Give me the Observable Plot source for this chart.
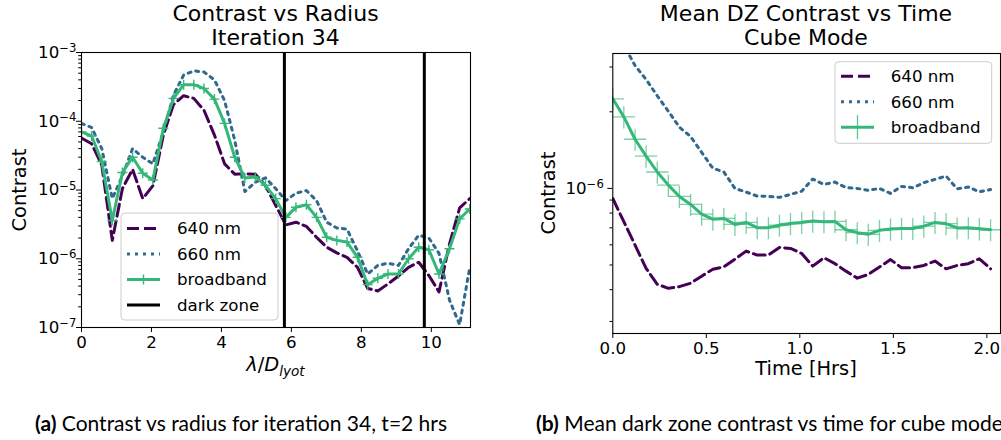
<!DOCTYPE html>
<html><head><meta charset="utf-8">
<script src="https://cdn.jsdelivr.net/npm/d3@7"></script>
<script src="https://cdn.jsdelivr.net/npm/@observablehq/plot@0.6"></script>
<style>
body{margin:0;background:#fff;width:1001px;height:440px;position:relative;overflow:hidden;font-family:"DejaVu Sans";color:#000;}
.title{position:absolute;top:2px;font-size:22px;line-height:24px;text-align:center;white-space:nowrap;transform:translateX(-50%);}
.ylab{position:absolute;font-size:19.4px;white-space:nowrap;transform:translate(-50%,-50%) rotate(-90deg);}
.xlab{position:absolute;font-size:19.4px;white-space:nowrap;transform:translate(-50%,-50%);}
.cap{position:absolute;top:411px;font-family:Lato;font-size:21px;line-height:24px;white-space:nowrap;}
#left{position:absolute;left:0;top:0;}
#right{position:absolute;left:500px;top:0;}
</style></head>
<body>
<div id="left"></div><div id="right"></div>
<div class="title" style="left:275.5px">Contrast vs Radius<br>Iteration 34</div>
<div class="title" style="left:806px">Mean DZ Contrast vs Time<br>Cube Mode</div>
<div class="ylab" style="left:19px;top:189.5px">Contrast</div>
<div class="ylab" style="left:548px;top:193px">Contrast</div>
<div class="xlab" style="left:275.5px;top:366px"><i>λ</i>/<i>D</i><sub style="font-size:70%"><i>lyot</i></sub></div>
<div class="xlab" style="left:806px;top:368px">Time [Hrs]</div>
<div class="cap" style="left:35px"><b>(a)</b> Contrast vs radius for iteration 34, t=2 hrs</div>
<div class="cap" style="left:536px"><b>(b)</b> Mean dark zone contrast vs time for cube mode</div>
<script>
// ---- Left chart: contrast vs radius ----
const radius = [0,0.29,0.58,0.88,1.17,1.46,1.75,2.04,2.34,2.63,
  2.92,3.21,3.5,3.8,4.09,4.38,4.67,4.97,5.26,5.55,
  5.84,6.13,6.43,6.72,7.01,7.3,7.59,7.89,8.18,8.47,
  8.76,9.06,9.35,9.64,9.93,10.22,10.52,10.81,11.1];
const radial640 = [5.7e-5,4.7e-5,2.3e-5,1.85e-6,1.05e-5,2.0e-5,7.5e-6,1.15e-5,6.3e-5,1.75e-4,
  2.35e-4,2.15e-4,1.45e-4,6.3e-5,2.4e-5,1.7e-5,1.72e-5,1.7e-5,1.15e-5,6.0e-6,
  3.1e-6,3.4e-6,2.95e-6,2.05e-6,1.47e-6,1.22e-6,1.05e-6,7.5e-7,3.7e-7,3.4e-7,
  4.3e-7,5.6e-7,7.5e-7,8.9e-7,5.7e-7,3.3e-7,1.65e-6,5.5e-6,7.5e-6];
const radial660 = [9.3e-5,8.1e-5,4.0e-5,7.5e-6,1.6e-5,4.0e-5,3.0e-5,2.4e-5,7.0e-5,2.4e-4,
  4.7e-4,5.4e-4,5.2e-4,4.0e-4,2.0e-4,5.3e-5,9.5e-6,1.3e-5,1.5e-5,1.05e-5,
  7.0e-6,9.0e-6,9.8e-6,7.0e-6,3.4e-6,2.8e-6,2.7e-6,1.3e-6,6.0e-7,8.0e-7,
  8.6e-7,8.0e-7,1.4e-6,2.2e-6,2.0e-6,1.2e-6,2.5e-7,1.1e-7,7.5e-7];
const radialBB = [7.0e-5,6.1e-5,2.6e-5,3.6e-6,1.8e-5,3.0e-5,1.75e-5,1.4e-5,7.9e-5,2.15e-4,
  3.4e-4,3.4e-4,3.0e-4,2.1e-4,9.3e-5,3.0e-5,1.5e-5,1.55e-5,1.17e-5,7.5e-6,
  4.0e-6,5.6e-6,6.1e-6,4.0e-6,2.05e-6,1.85e-6,1.75e-6,1.05e-6,4.2e-7,5.2e-7,
  6.0e-7,6.0e-7,1.0e-6,1.47e-6,1.35e-6,6.0e-7,1.4e-6,3.8e-6,5.3e-6];
const darkZone = [5.8, 9.8];
const leftXTicks = [0,2,4,6,8,10];
const leftYMajor = [1e-7,1e-6,1e-5,1e-4,1e-3];
const leftYMinor = [2e-7,3e-7,4e-7,5e-7,6e-7,7e-7,8e-7,9e-7,
  2e-6,3e-6,4e-6,5e-6,6e-6,7e-6,8e-6,9e-6,
  2e-5,3e-5,4e-5,5e-5,6e-5,7e-5,8e-5,9e-5,
  2e-4,3e-4,4e-4,5e-4,6e-4,7e-4,8e-4,9e-4];

// ---- Right chart: mean DZ contrast vs time ----
const time = [0,0.059,0.119,0.178,0.238,0.297,0.356,0.416,0.475,0.535,
  0.594,0.653,0.713,0.772,0.832,0.891,0.950,1.010,1.069,1.129,
  1.188,1.247,1.307,1.366,1.426,1.485,1.544,1.604,1.663,1.723,
  1.782,1.841,1.901,1.960,2.020];
const mean640 = [9.13e-7,7.40e-7,5.99e-7,4.85e-7,4.20e-7,4.05e-7,4.11e-7,4.24e-7,4.52e-7,4.81e-7,
  4.92e-7,5.27e-7,5.67e-7,5.47e-7,5.47e-7,5.86e-7,5.81e-7,5.55e-7,4.95e-7,5.34e-7,
  5.06e-7,4.73e-7,4.44e-7,4.59e-7,4.91e-7,5.25e-7,4.88e-7,4.88e-7,4.98e-7,5.18e-7,
  4.83e-7,4.98e-7,5.06e-7,5.29e-7,4.83e-7];
const mean660 = [4.6e-6,3.65e-6,3.04e-6,2.68e-6,2.31e-6,2.01e-6,1.74e-6,1.60e-6,1.385e-6,1.20e-6,
  1.16e-6,1.0e-6,9.67e-7,9.33e-7,9.3e-7,9.22e-7,9.47e-7,9.75e-7,1.088e-6,1.037e-6,
  1.059e-6,1.007e-6,1.0e-6,9.83e-7,9.99e-7,9.56e-7,1.018e-6,1.006e-6,1.053e-6,1.085e-6,
  1.118e-6,9.97e-7,1.012e-6,9.7e-7,9.9e-7];
const meanBB = [2.25e-6,1.91e-6,1.56e-6,1.34e-6,1.16e-6,1.03e-6,9.3e-7,8.65e-7,7.93e-7,7.57e-7,
  7.62e-7,7.22e-7,7.35e-7,7.01e-7,7.01e-7,7.17e-7,7.28e-7,7.35e-7,7.44e-7,7.40e-7,
  7.42e-7,6.88e-7,6.70e-7,6.60e-7,6.84e-7,6.92e-7,6.96e-7,6.96e-7,7.11e-7,7.35e-7,
  7.27e-7,6.99e-7,7.01e-7,6.94e-7,6.88e-7];
const meanBBXerr = 0.06;      // hours (half-width of horizontal error bars)
const meanBBYerrFrac = 0.10;  // relative half-height of vertical error bars
const rightXTicks = [0,0.5,1.0,1.5,2.0];
const rightYMajor = [1e-6];
const rightYMinor = [3e-7,4e-7,5e-7,6e-7,7e-7,8e-7,9e-7,2e-6,3e-6];

const seriesNames = ["640 nm","660 nm","broadband","dark zone"];
const C640 = "#440154", C660 = "#31688e", CBB = "#35b779";
const FS = 16.67;
const DASH = "12,5", DOT = "3,5";

const plusSym = {draw(ctx, size){ const r = Math.sqrt(size/Math.PI); ctx.moveTo(-r,0); ctx.lineTo(r,0); ctx.moveTo(0,-r); ctx.lineTo(0,r); }};

const leftData = radius.map((r,i)=>({r, a: radial640[i], b: radial660[i], c: radialBB[i]}));
const rightData = time.map((t,i)=>({t, a: mean640[i], b: mean660[i], c: meanBB[i]}));

const expFmt = d => "E" + Math.round(Math.log10(d));
const common = {style:{fontFamily:"DejaVu Sans", fontSize: FS+"px", background:"transparent", overflow:"visible"}};

const left = Plot.plot({
  ...common, width: 500, height: 390,
  marginLeft: 81, marginRight: 30, marginTop: 52, marginBottom: 63,
  x: {domain: [0, 11.12]},
  y: {type: "log", domain: [1e-7, 1e-3]},
  marks: [
    Plot.line(leftData, {x:"r", y:"a", stroke:C640, strokeWidth:3, strokeDasharray:DASH, clip:true}),
    Plot.line(leftData, {x:"r", y:"b", stroke:C660, strokeWidth:3, strokeDasharray:DOT, clip:true}),
    Plot.line(leftData, {x:"r", y:"c", stroke:CBB, strokeWidth:3, clip:true}),
    Plot.dot(leftData, {x:"r", y:"c", symbol: plusSym, r:5, stroke:CBB, strokeWidth:1.4, fill:"none", clip:true}),
    Plot.ruleX(darkZone, {stroke:"#000", strokeWidth:3}),
    Plot.axisX(leftXTicks, {tickSize:5, tickPadding:4, label:null, fontSize:FS}),
    Plot.axisY(leftYMajor, {tickSize:5, tickPadding:0, label:null, tickFormat: expFmt, fontSize:FS}),
    Plot.axisY(leftYMinor, {tickSize:2.8, label:null, tickFormat: () => ""}),
    Plot.frame({stroke:"#000", strokeWidth:1.1})
  ]
});

const right = Plot.plot({
  ...common, width: 501, height: 390,
  marginLeft: 112.3, marginRight: 1, marginTop: 53, marginBottom: 57,
  x: {domain: [0, 2.073]},
  y: {type: "log", domain: [2.69e-7, 3.39e-6]},
  marks: [
    Plot.line(rightData, {x:"t", y:"a", stroke:C640, strokeWidth:3, strokeDasharray:DASH, clip:true}),
    Plot.line(rightData, {x:"t", y:"b", stroke:C660, strokeWidth:3, strokeDasharray:DOT, clip:true}),
    Plot.link(rightData, {x1: d => d.t - meanBBXerr, x2: d => d.t + meanBBXerr, y1:"c", y2:"c", stroke:CBB, strokeOpacity:0.65, strokeWidth:1.3, clip:true}),
    Plot.link(rightData, {x1:"t", x2:"t", y1: d => d.c*(1-meanBBYerrFrac), y2: d => d.c*(1+meanBBYerrFrac), stroke:CBB, strokeOpacity:0.65, strokeWidth:1.3, clip:true}),
    Plot.line(rightData, {x:"t", y:"c", stroke:CBB, strokeWidth:3, clip:true}),
    Plot.axisX(rightXTicks, {tickSize:5, tickPadding:4, label:null, fontSize:FS, tickFormat: d => d.toFixed(1)}),
    Plot.axisY(rightYMajor, {tickSize:5, tickPadding:4, label:null, tickFormat: expFmt, fontSize:FS}),
    Plot.axisY(rightYMinor, {tickSize:2.8, label:null, tickFormat: () => ""}),
    Plot.frame({stroke:"#000", strokeWidth:1.1})
  ]
});

function supify(svg){
  d3.select(svg).selectAll("text").each(function(){
    const s = this.textContent;
    if (!/^E-?\d+$/.test(s)) return;
    const e = +s.slice(1);
    const t = d3.select(this); t.text("");
    t.append("tspan").text("10");
    t.append("tspan").attr("dy","-0.5em").attr("font-size","0.7em").text((e<0?"\u2212":"") + Math.abs(e));
  });
}
supify(left); supify(right);

function legend(svg, box, entries, hx0, hx1, tx){
  const g = d3.select(svg).append("g").attr("text-anchor","start");
  g.append("rect").attr("x",box[0]).attr("y",box[1]).attr("width",box[2]).attr("height",box[3])
    .attr("rx",4).attr("fill","#fff").attr("fill-opacity",0.8).attr("stroke","#cccccc").attr("stroke-width",1);
  entries.forEach(en => {
    const y = en.y;
    const ln = g.append("line").attr("x1",hx0).attr("x2",hx1).attr("y1",y).attr("y2",y)
      .attr("stroke",en.color).attr("stroke-width",3);
    if (en.dash) ln.attr("stroke-dasharray",en.dash);
    const cx = (hx0+hx1)/2;
    if (en.plus) {
      g.append("path").attr("d",`M${cx-5},${y}H${cx+5}M${cx},${y-5}V${y+5}`).attr("stroke",en.color).attr("stroke-width",1.4);
    }
    if (en.err) {
      g.append("line").attr("x1",cx).attr("x2",cx).attr("y1",y-12).attr("y2",y+12).attr("stroke",en.color).attr("stroke-opacity",0.8).attr("stroke-width",1.3);
    }
    g.append("text").attr("x",tx).attr("y",y).attr("dy","0.35em").attr("text-anchor","start")
      .attr("font-size",FS).attr("font-family","DejaVu Sans").text(en.label);
  });
}
legend(left, [121,213,157,107], [
  {label: seriesNames[0], color:C640, dash:DASH, y:228.5},
  {label: seriesNames[1], color:C660, dash:DOT, y:254},
  {label: seriesNames[2], color:CBB, plus:true, y:279.5},
  {label: seriesNames[3], color:"#000", y:305}
], 127, 160, 177);
legend(right, [335,61.7,156.7,81.6], [
  {label: seriesNames[0], color:C640, dash:DASH, y:76.2},
  {label: seriesNames[1], color:C660, dash:DOT, y:101.7},
  {label: seriesNames[2], color:CBB, err:true, y:127.2}
], 341, 374, 390.7);

document.getElementById("left").appendChild(left);
document.getElementById("right").appendChild(right);
</script>
</body></html>
